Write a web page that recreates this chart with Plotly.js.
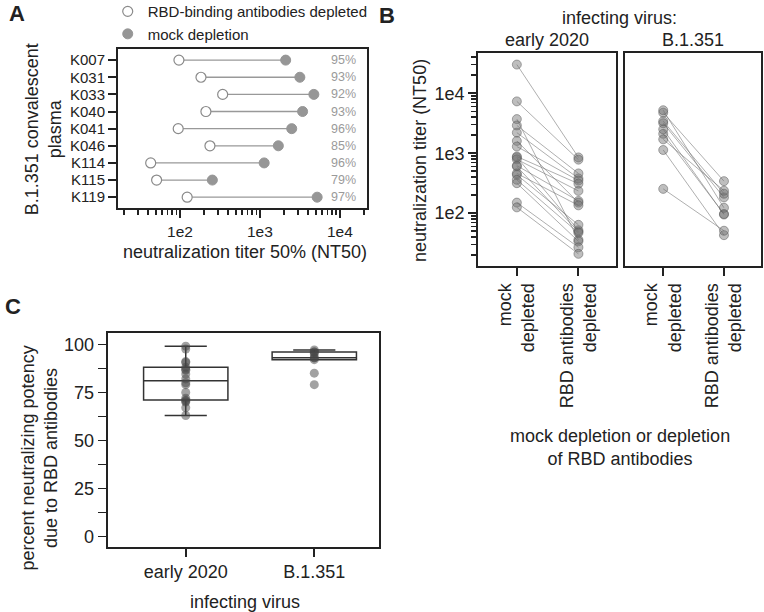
<!DOCTYPE html>
<html>
<head>
<meta charset="utf-8">
<script src="https://cdn.plot.ly/plotly-3.0.1.min.js"></script>
<style>
  body { margin: 0; background: #fff; }
  #chart { width: 764px; height: 612px; }
</style>
</head>
<body>
<div id="chart"></div>
<script>
// Panel A: B.1.351 convalescent plasma
const plasmaIds = ["K007", "K031", "K033", "K040", "K041", "K046", "K114", "K115", "K119"];
const mockTiterA = [2100, 3160, 4730, 3420, 2500, 1700, 1130, 254, 5200];
const rbdTiterA = [97, 183, 342, 211, 95, 237, 43, 51, 123];
const pctLabelsA = [95, 93, 92, 93, 96, 85, 96, 79, 97];
const limitA = 25;

// Panel B: early 2020 plasma (mock vs RBD depleted)
const mockEarly = [30000, 7300, 3700, 2900, 2200, 1600, 1290, 880, 850, 790, 620, 600, 460, 435, 360, 316, 150, 125];
const rbdEarly = [850, 780, 36, 460, 380, 150, 350, 310, 52, 235, 160, 49, 135, 64, 47, 34, 27, 21];
const limitEarly = 20;
const limitB1351 = 25;

// Panel C: percent neutralizing potency due to RBD antibodies
const pctEarly = [99, 97.5, 91, 90.5, 88, 87, 86.5, 84.5, 82, 80, 79, 75, 72, 71, 70.5, 70, 67, 63];
const pctB1351 = [95, 93, 92, 93, 96, 85, 96, 79, 97];

const font = "Liberation Sans, Arial, sans-serif";
const ink = "#222";
const pink = "#d46fa3";
const logMinor = [20,30,40,50,60,70,80,90,200,300,400,500,600,700,800,900,
                  2000,3000,4000,5000,6000,7000,8000,9000,20000,30000,40000];

// --- panel A traces
const segX = [], segY = [];
plasmaIds.forEach((id, i) => {
    segX.push(rbdTiterA[i], mockTiterA[i], null);
    segY.push(id, id, null);
});

const traces = [
    { x: segX, y: segY, xaxis: "x", yaxis: "y", mode: "lines", showlegend: false,
      line: { color: "#999", width: 1.3 }, hoverinfo: "skip" },
    { x: rbdTiterA, y: plasmaIds, xaxis: "x", yaxis: "y", mode: "markers",
      name: "RBD-binding antibodies depleted",
      marker: { size: 10, color: "#fff", line: { color: "#8a8a8a", width: 1.2 } } },
    { x: mockTiterA, y: plasmaIds, xaxis: "x", yaxis: "y", mode: "markers",
      name: "mock depletion",
      marker: { size: 10, color: "#969696", line: { color: "#969696", width: 1 } } }
];

// --- panel B traces
function pairTraces(mock, rbd, xa, ya) {
    mock.forEach((m, i) => {
        traces.push({
            x: ["mock", "RBD"], y: [m, rbd[i]], xaxis: xa, yaxis: ya,
            mode: "lines+markers", showlegend: false,
            line: { color: "rgba(110,110,110,0.55)", width: 1 },
            marker: { size: 9, color: "rgba(110,110,110,0.45)",
                      line: { color: "rgba(90,90,90,0.5)", width: 1 } }
        });
    });
}
pairTraces(mockEarly, rbdEarly, "x2", "y2");
pairTraces(mockTiterA, rbdTiterA, "x3", "y3");

// --- panel C traces
function boxTrace(vals, cat) {
    return {
        type: "box", x: vals.map(() => cat), y: vals, xaxis: "x4", yaxis: "y4",
        boxpoints: "all", jitter: 0, pointpos: 0, width: 0.656, showlegend: false,
        quartilemethod: "inclusive",
        fillcolor: "rgba(255,255,255,0)",
        line: { color: "#333", width: 1.5 },
        marker: { size: 9, color: "rgba(70,70,70,0.5)" }
    };
}
traces.push(boxTrace(pctEarly, "early 2020"));
traces.push(boxTrace(pctB1351, "B.1.351"));

const frame = { showline: true, mirror: true, linecolor: ink, linewidth: 2,
                zeroline: false, showgrid: false, automargin: false };
const bigTick = { family: font, size: 18, color: ink };
const smallTick = { family: font, size: 15.5, color: ink };

const pctCTicks = [0, 12.5, 25, 37.5, 50, 62.5, 75, 87.5, 100];

const layout = {
    width: 764, height: 612,
    margin: { l: 0, r: 0, t: 0, b: 0, autoexpand: false },
    paper_bgcolor: "#fff", plot_bgcolor: "#fff",
    font: { family: font, color: ink, size: 18 },
    showlegend: true,
    legend: { x: 0.141, y: 1.008, xanchor: "left", yanchor: "top",
              font: { family: font, size: 15, color: ink },
              bgcolor: "rgba(0,0,0,0)", itemwidth: 30, tracegroupgap: 0 },
    xaxis: Object.assign({}, frame, {
        domain: [0.1545, 0.4804], anchor: "y", type: "log", range: [1.225, 4.34],
        tickmode: "array", tickvals: [100, 1000, 10000], ticktext: ["1e2", "1e3", "1e4"],
        ticks: "outside", ticklen: 8, tickwidth: 1.5, tickcolor: ink, tickfont: smallTick,
        minor: { tickmode: "array", tickvals: logMinor, ticks: "outside", ticklen: 5,
                 tickwidth: 1.5, tickcolor: ink }
    }),
    yaxis: Object.assign({}, frame, {
        domain: [0.6596, 0.9194], anchor: "x", type: "category",
        categoryorder: "array", categoryarray: plasmaIds, range: [8.65, -0.63],
        tickmode: "array", tickvals: plasmaIds, ticktext: plasmaIds,
        ticks: "outside", ticklen: 8, tickwidth: 2, tickcolor: ink,
        tickfont: { family: font, size: 15, color: ink }
    }),
    xaxis2: Object.assign({}, frame, {
        domain: [0.6257, 0.8063], anchor: "y2", type: "category",
        categoryorder: "array", categoryarray: ["mock", "RBD"], range: [-0.63, 1.61],
        tickmode: "array", tickvals: ["mock", "RBD"],
        ticktext: ["mock<br>depleted", "RBD antibodies<br>depleted"], tickangle: -90,
        ticks: "outside", ticklen: 8, tickwidth: 2, tickcolor: ink, tickfont: bigTick
    }),
    yaxis2: Object.assign({}, frame, {
        domain: [0.5654, 0.9134], anchor: "x2", type: "log", range: [1.12, 4.67],
        tickmode: "array", tickvals: [100, 1000, 10000], ticktext: ["1e2", "1e3", "1e4"],
        ticks: "outside", ticklen: 8, tickwidth: 1.5, tickcolor: ink, tickfont: bigTick,
        minor: { tickmode: "array", tickvals: logMinor, ticks: "outside", ticklen: 5,
                 tickwidth: 1.5, tickcolor: ink }
    }),
    xaxis3: Object.assign({}, frame, {
        domain: [0.818, 0.9961], anchor: "y3", type: "category",
        categoryorder: "array", categoryarray: ["mock", "RBD"], range: [-0.63, 1.61],
        tickmode: "array", tickvals: ["mock", "RBD"],
        ticktext: ["mock<br>depleted", "RBD antibodies<br>depleted"], tickangle: -90,
        ticks: "outside", ticklen: 8, tickwidth: 2, tickcolor: ink, tickfont: bigTick
    }),
    yaxis3: Object.assign({}, frame, {
        domain: [0.5654, 0.9134], anchor: "x3", type: "log", range: [1.12, 4.67],
        showticklabels: false, ticks: ""
    }),
    xaxis4: Object.assign({}, frame, {
        domain: [0.141, 0.496], anchor: "y4", type: "category",
        categoryorder: "array", categoryarray: ["early 2020", "B.1.351"], range: [-0.607, 1.503],
        ticks: "outside", ticklen: 8, tickwidth: 2, tickcolor: ink, tickfont: bigTick
    }),
    yaxis4: Object.assign({}, frame, {
        domain: [0.1067, 0.4554], anchor: "x4", range: [-5.2, 105.7],
        tickmode: "array", tickvals: pctCTicks,
        ticktext: pctCTicks.map(v => v % 25 === 0 ? String(v) : ""),
        ticks: "outside", ticklen: 8, tickwidth: 1.5, tickcolor: ink, tickfont: bigTick
    }),
    shapes: [
        { type: "line", xref: "x", yref: "y domain", x0: Math.log10(limitA), x1: Math.log10(limitA),
          y0: 0, y1: 1, line: { color: pink, width: 2, dash: "dot" } },
        { type: "line", xref: "x2 domain", yref: "y2", x0: 0, x1: 1,
          y0: Math.log10(limitEarly), y1: Math.log10(limitEarly), line: { color: pink, width: 2, dash: "dot" } },
        { type: "line", xref: "x3 domain", yref: "y3", x0: 0, x1: 1,
          y0: Math.log10(limitB1351), y1: Math.log10(limitB1351), line: { color: pink, width: 2, dash: "dot" } }
    ],
    annotations: []
};

// percent labels beside panel A rows
plasmaIds.forEach((id, i) => {
    layout.annotations.push({ xref: "x", yref: "y", x: 4.225, y: id, text: pctLabelsA[i] + "%",
        xanchor: "right", showarrow: false, font: { family: font, size: 12.5, color: "#9a9a9a" } });
});

function note(text, x, y, opts) {
    layout.annotations.push(Object.assign({ xref: "paper", yref: "paper", x: x, y: y, text: text,
        showarrow: false, xanchor: "center", yanchor: "middle",
        font: { family: font, size: 18, color: ink } }, opts || {}));
}
note("<b>A</b>", 0.022, 0.978, { font: { family: font, size: 22, color: ink } });
note("<b>B</b>", 0.506, 0.975, { font: { family: font, size: 22, color: ink } });
note("<b>C</b>", 0.017, 0.5, { font: { family: font, size: 22, color: ink } });
note("B.1.351 convalescent<br>plasma", 0.057, 0.788, { textangle: -90 });
note("neutralization titer 50% (NT50)", 0.321, 0.589);
note("infecting virus:", 0.8115, 0.9706);
note("early 2020", 0.716, 0.9346);
note("B.1.351", 0.907, 0.9346);
note("neutralization titer (NT50)", 0.5497, 0.7386, { textangle: -90 });
note("mock depletion or depletion<br>of RBD antibodies", 0.8115, 0.2696);
note("percent neutralizing potency<br>due to RBD antibodies", 0.052, 0.252, { textangle: -90 });
note("infecting virus", 0.3207, 0.017);

Plotly.newPlot("chart", traces, layout, { staticPlot: true });
</script>
</body>
</html>
